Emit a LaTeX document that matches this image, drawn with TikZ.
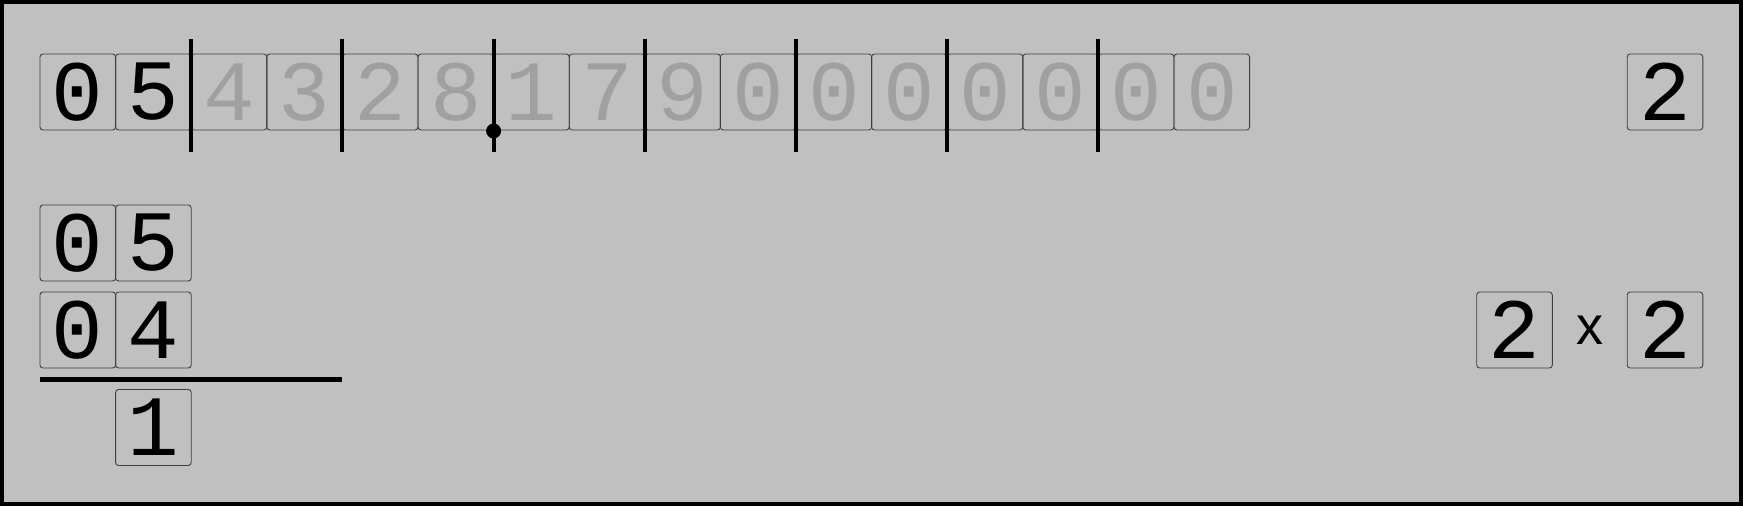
\documentclass[tikz,border=0pt]{standalone}
\usepackage{fontspec}
\newfontfamily\digitfont{Liberation Mono}
\newfontfamily\signfont{Liberation Sans}
\definecolor{bg}{HTML}{C0C0C0}
\definecolor{faded}{HTML}{A0A0A0}
\definecolor{edge}{HTML}{404040}
\tikzset{
  cell/.style={draw=edge, line width=0.9pt, rounded corners=3pt, minimum width=75.6pt, minimum height=76pt, inner sep=0pt, font=\digitfont\fontsize{86}{86}\selectfont, text=black},
  dim/.style={text=faded},
  sep/.style={line width=4pt},
}
\begin{document}
\begin{tikzpicture}[x=1pt,y=-1pt]
\useasboundingbox (0,0) rectangle (1743,506);
\fill[bg] (0,0) rectangle (1743,506);
\draw[line width=4pt] (2,2) rectangle (1741,504);
% top row
\foreach \d [count=\i from 0] in {0,5,4,3,2,8,1,7,9,0,0,0,0,0,0,0} {
  \ifnum\i<2
    \node[cell] (t\i) at ({40+75.6*(\i+0.5)},92) {\d};
  \else
    \node[cell,dim] (t\i) at ({40+75.6*(\i+0.5)},92) {\d};
  \fi
}
\foreach \k in {2,4,...,14} {
  \coordinate (sa\k) at ({40+75.6*\k},39);
  \coordinate (sb\k) at ({40+75.6*\k},152);
  \draw[sep] (sa\k) -- (sb\k);
}
\coordinate (dot) at ({40+75.6*6},131);
\fill (dot) circle (7.5pt);
\node[cell] (div) at (1665,92) {2};
% subtraction
\node[cell] (a0) at (77.8,243) {0};
\node[cell] (a1) at (153.4,243) {5};
\node[cell] (b0) at (77.8,330) {0};
\node[cell] (b1) at (153.4,330) {4};
\coordinate (la) at (40,379);
\coordinate (lb) at (342,379);
\draw[line width=5pt] (la) -- (lb);
\node[cell] (r1) at (153.4,427.5) {1};
% product
\node[cell] (m1) at (1514.5,330) {2};
\node[font=\signfont\fontsize{54}{54}\selectfont] (times) at (1590,330) {x};
\node[cell] (m2) at (1665,330) {2};
\end{tikzpicture}
\end{document}
